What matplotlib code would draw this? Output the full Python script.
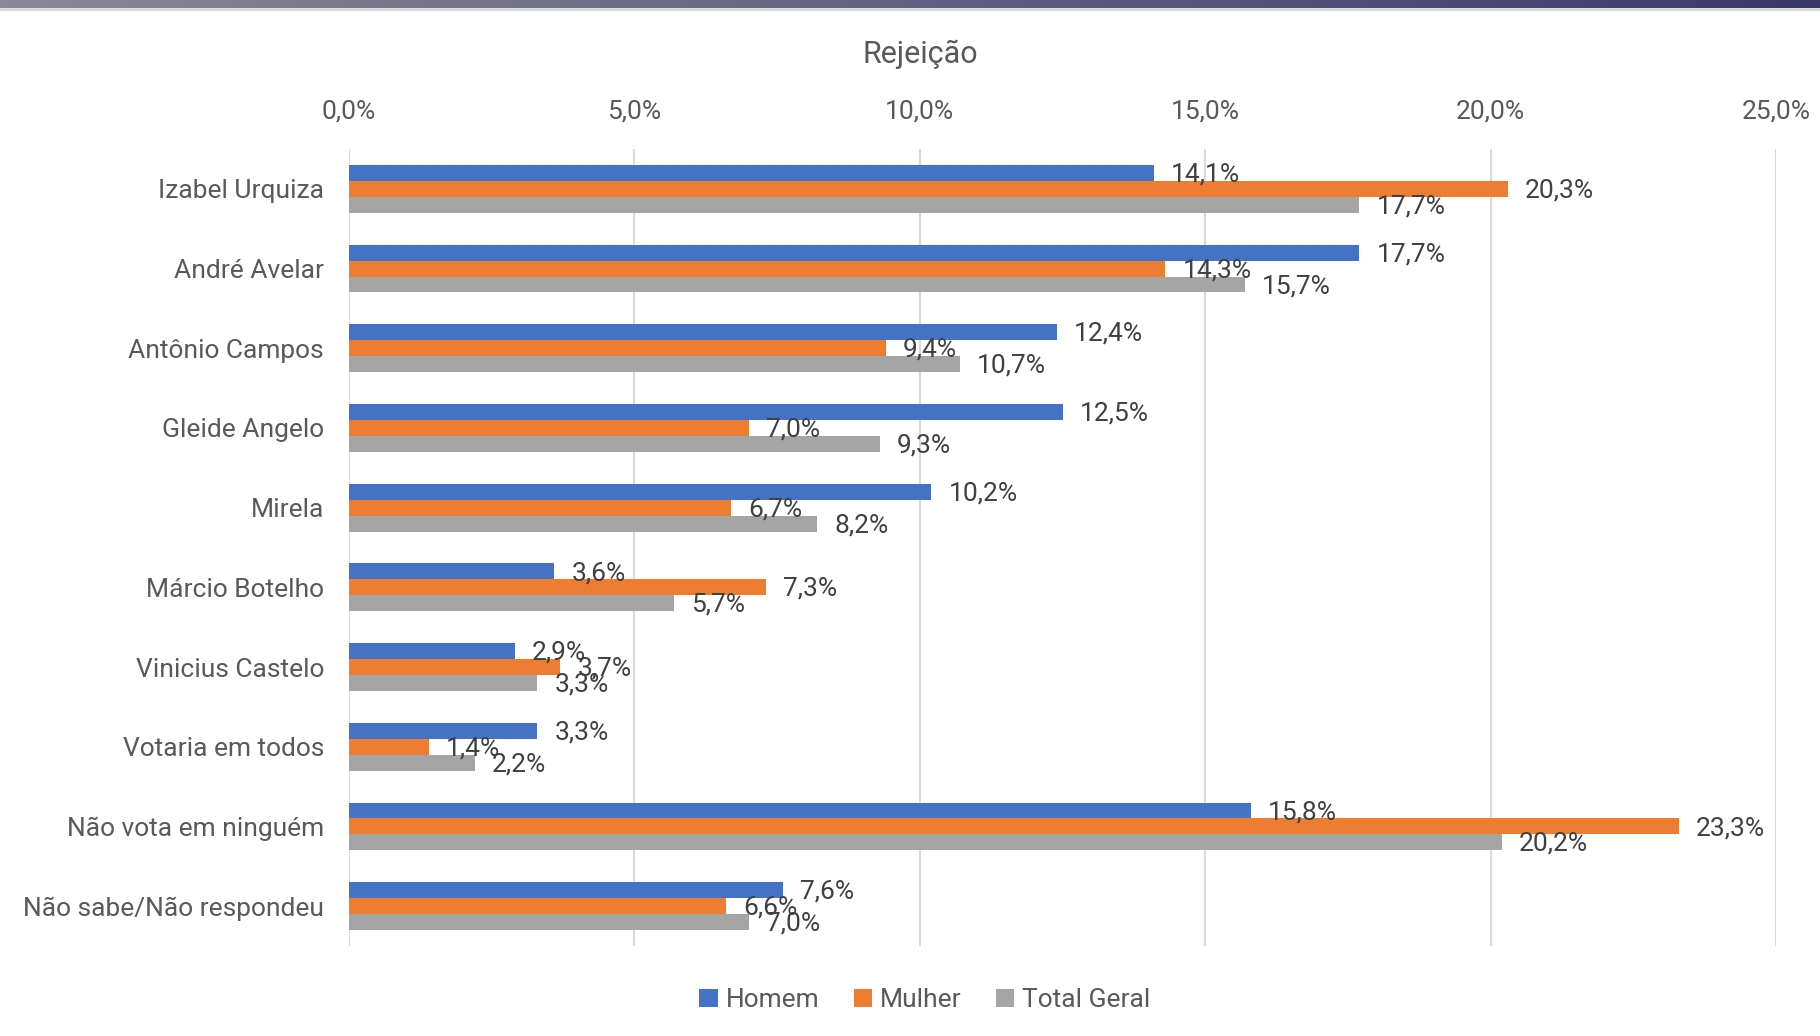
import matplotlib
matplotlib.use("Agg")
import matplotlib.pyplot as plt
from matplotlib.patches import Patch
import numpy as np

#### Data
categorias = ["Izabel Urquiza", "André Avelar", "Antônio Campos", "Gleide Angelo",
              "Mirela", "Márcio Botelho", "Vinicius Castelo", "Votaria em todos",
              "Não vota em ninguém", "Não sabe/Não respondeu"]
homem  = [14.1, 17.7, 12.4, 12.5, 10.2, 3.6, 2.9, 3.3, 15.8, 7.6]
mulher = [20.3, 14.3,  9.4,  7.0,  6.7, 7.3, 3.7, 1.4, 23.3, 6.6]
total  = [17.7, 15.7, 10.7,  9.3,  8.2, 5.7, 3.3, 2.2, 20.2, 7.0]
series = ["Homem", "Mulher", "Total Geral"]
xticks = [0, 5, 10, 15, 20, 25]

cores = ["#4472C4", "#ED7D31", "#A5A5A5"]

plt.rcParams['font.family'] = ['Roboto', 'DejaVu Sans']

fig = plt.figure(figsize=(18.2, 10.36), dpi=100)

#### Top gradient band
band = fig.add_axes([0, 1 - 8/1036, 1, 8/1036])
c0 = np.array([0x8a, 0x88, 0x96]) / 255.0
c1 = np.array([0x3c, 0x39, 0x6b]) / 255.0
t = np.linspace(0, 1, 256)[None, :, None]
grad = c0 + (c1 - c0) * t
band.imshow(grad, aspect='auto', extent=[0, 1, 0, 1])
band.axis('off')
line = fig.add_axes([0, 1 - 11/1036, 1, 3/1036])
line.set_facecolor("#D9D9D9")
line.set_xticks([]); line.set_yticks([])
for s in line.spines.values():
   s.set_visible(False)

#### Main chart
ax = fig.add_axes([349/1820, 1 - 946/1036, (1776-349)/1820, (946-149)/1036])
y = np.arange(len(categorias))
h = 0.2
for k, (vals, nome) in enumerate(zip([homem, mulher, total], series)):
   pos = y + (k - 1) * h
   ax.barh(pos, vals, height=h, color=cores[k], label=nome, zorder=3)
   for p, v in zip(pos, vals):
      ax.text(v + 0.3, p + 0.02, ("%.1f%%" % v).replace('.', ','), va='center', ha='left',
              fontsize=19, color="#404040", zorder=4)

ax.set_xlim(0, 25)
ax.set_ylim(len(categorias) - 0.5, -0.5)
ax.set_yticks(y)
ax.set_yticklabels(categorias, fontsize=19, color="#595959")
ax.set_xticks(xticks)
ax.set_xticklabels([("%.1f%%" % v).replace('.', ',') for v in xticks], fontsize=19, color="#595959")
ax.xaxis.tick_top()
ax.tick_params(axis='both', length=0)
ax.tick_params(axis='x', pad=18)
ax.tick_params(axis='y', pad=18)
ax.grid(axis='x', color="#D9D9D9", linewidth=1.5, zorder=0)
for s in ax.spines.values():
   s.set_visible(False)

fig.text(920/1820, 1 - 54/1036, "Rejeição", ha='center', va='center', fontsize=22, color="#595959")

handles = [Patch(facecolor=c, edgecolor='none') for c in cores]
fig.legend(handles, series, loc='center', bbox_to_anchor=(925/1820, 1 - 1000/1036), ncol=3,
           frameon=False, fontsize=19, labelcolor="#595959", handlelength=0.7, handleheight=0.7,
           handletextpad=0.3, columnspacing=1.3)

fig.savefig("out.png", dpi=100, facecolor='white')
